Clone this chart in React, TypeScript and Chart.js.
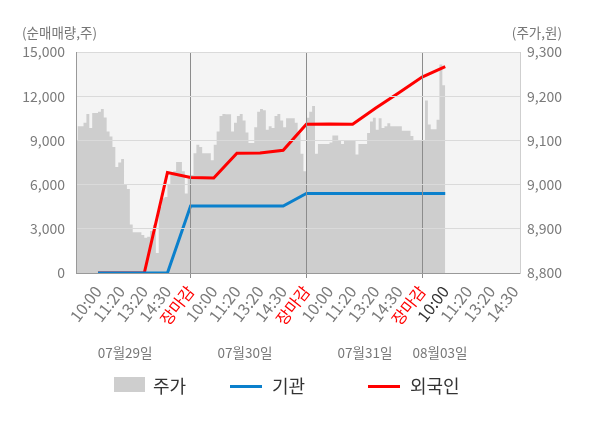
import React, { useEffect, useRef } from "react";
import { Chart, registerables } from "chart.js";

Chart.register(...registerables);

const tickLabels = [
  "10:00", "11:20", "13:20", "14:30", "장마감",
  "10:00", "11:20", "13:20", "14:30", "장마감",
  "10:00", "11:20", "13:20", "14:30", "장마감",
  "10:00", "11:20", "13:20", "14:30",
];
const dateLabels = ["07월29일", "07월30일", "07월31일", "08월03일"];
const dateAnchors = [1.17, 6.35, 11.53, 14.77];

// 순매매량 (누적), 10:00 첫날 ~ 10:00 08월03일
const instValues = [0, 0, 0, 0, 4550, 4550, 4550, 4550, 4550, 5400, 5400, 5400, 5400, 5400, 5400, 5400];
const foreignValues = [0, 0, 0, 6820, 6480, 6450, 8130, 8150, 8330, 10100, 10120, 10100, 11200, 12240, 13300, 14000];

// 주가 (일자별 샘플)
const priceDay1 = [
  9100, 9132, 9132, 9140, 9160, 9128, 9162, 9162, 9165, 9171,
  9152, 9120, 9109, 9085, 9040, 9050, 9058, 9000, 8990, 8910,
  8892, 8892, 8892, 8886, 8880, 8882, 8895, 8909, 8845, 8950,
  8969, 8972, 9000, 9022, 9030, 9051, 9051, 9030, 8980, 9020,
];
const priceDay2 = [
  9022, 9071, 9090, 9085, 9071, 9071, 9071, 9055, 9090, 9120,
  9155, 9160, 9159, 9159, 9120, 9140, 9155, 9160, 9145, 9118,
  9094, 9094, 9130, 9165, 9171, 9168, 9124, 9132, 9128, 9155,
  9160, 9145, 9130, 9150, 9150, 9150, 9140, 9115, 9070, 9030,
];
const priceDay3 = [
  9151, 9165, 9178, 9070, 9092, 9092, 9092, 9092, 9095, 9111,
  9111, 9100, 9092, 9099, 9099, 9099, 9099, 9068, 9092, 9092,
  9092, 9117, 9143, 9151, 9124, 9150, 9128, 9132, 9139, 9132,
  9132, 9132, 9132, 9122, 9122, 9122, 9110, 9099, 9099, 9099,
];
const priceDay4 = [9099, 9190, 9136, 9125, 9125, 9147, 9272, 9225];

const FONT = '"Noto Sans CJK KR", "Noto Sans", sans-serif';
const DAY_UNITS = 5;
const SAMPLE_STEP = 0.125;

function buildPricePoints() {
  const days = [priceDay1, priceDay2, priceDay3, priceDay4];
  const pts: { x: number; y: number }[] = [];
  days.forEach((arr, d) => {
    const start = d * DAY_UNITS - 1;
    arr.forEach((v, i) => pts.push({ x: start + i * SAMPLE_STEP, y: v }));
  });
  const last = priceDay4[priceDay4.length - 1];
  pts.push({ x: 3 * DAY_UNITS - 1 + priceDay4.length * SAMPLE_STEP, y: last });
  return pts;
}

const decorPlugin = {
  id: "decor",
  beforeDraw(chart: any) {
    const { ctx, chartArea } = chart;
    ctx.save();
    ctx.fillStyle = "#f4f4f4";
    ctx.fillRect(chartArea.left, chartArea.top, chartArea.right - chartArea.left, chartArea.bottom - chartArea.top);
    ctx.restore();
  },
  afterDraw(chart: any) {
    const { ctx, scales } = chart;
    ctx.save();
    ctx.fillStyle = "#777";
    ctx.textBaseline = "middle";
    ctx.font = `13.5px ${FONT}`;
    ctx.textAlign = "left";
    ctx.fillText("(순매매량,주)", 22, 33);
    ctx.textAlign = "right";
    ctx.fillText("(주가,원)", 562, 33);
    ctx.textAlign = "center";
    dateLabels.forEach((d, i) => {
      ctx.fillText(d, scales.x.getPixelForValue(dateAnchors[i]), 353);
    });
    ctx.restore();
  },
};

const App = () => {
  const chartRef = useRef<HTMLCanvasElement | null>(null);
  const chartInstance = useRef<Chart | null>(null);

  useEffect(() => {
    if (chartInstance.current) chartInstance.current.destroy();
    const ctx = chartRef.current?.getContext("2d");
    if (!ctx) return;

    chartInstance.current = new Chart(ctx, {
      type: "line",
      data: {
        datasets: [
          {
            label: "기관",
            data: instValues.map((v, i) => ({ x: i, y: v })),
            borderColor: "#0b80cc",
            borderWidth: 3,
            pointRadius: 0,
            yAxisID: "y",
            order: 1,
          },
          {
            label: "외국인",
            data: foreignValues.map((v, i) => ({ x: i, y: v })),
            borderColor: "#ff0000",
            borderWidth: 3,
            pointRadius: 0,
            yAxisID: "y",
            order: 2,
          },
          {
            label: "주가",
            data: buildPricePoints(),
            borderWidth: 0,
            borderColor: "rgba(0,0,0,0)",
            backgroundColor: "#cecece",
            fill: "start",
            stepped: true,
            pointRadius: 0,
            yAxisID: "y1",
            order: 3,
          },
        ],
      },
      options: {
        animation: false,
        responsive: false,
        layout: { padding: { top: 52, left: 0, right: 0, bottom: 0 } },
        plugins: { legend: { display: false }, tooltip: { enabled: false } },
        scales: {
          x: {
            type: "linear",
            min: -0.95,
            max: 18.23,
            afterBuildTicks: (scale: any) => {
              scale.ticks = tickLabels.map((_, i) => ({ value: i }));
            },
            afterFit: (scale: any) => {
              scale.height = 155;
            },
            grid: {
              z: 1,
              color: (c: any) => ([4, 9, 14].includes(c.tick?.value) ? "#8c8c8c" : "rgba(0,0,0,0)"),
              tickLength: 5,
            },
            border: { color: "#999", width: 1, z: 2 },
            ticks: {
              autoSkip: false,
              minRotation: 52,
              maxRotation: 52,
              padding: 4,
              font: { family: FONT, size: 16 },
              color: (c: any) =>
                tickLabels[c.index] === "장마감" ? "#ff0000" : c.index === 15 ? "#333" : "#7a7a7a",
              callback: (_v: any, i: number) => tickLabels[i],
            },
          },
          y: {
            position: "left",
            min: 0,
            max: 15000,
            afterFit: (scale: any) => {
              scale.width = 76;
            },
            grid: { z: 1, color: "#dadada", drawTicks: false },
            border: { color: "#999", z: 2 },
            ticks: {
              stepSize: 3000,
              padding: 11,
              font: { family: FONT, size: 14 },
              color: "#7a7a7a",
              callback: (v: any) => Number(v).toLocaleString("en-US"),
            },
          },
          y1: {
            position: "right",
            min: 8800,
            max: 9300,
            afterFit: (scale: any) => {
              scale.width = 80;
            },
            grid: { display: false, drawTicks: false },
            border: { color: "#cfcfcf", z: 2 },
            ticks: {
              stepSize: 100,
              padding: 7,
              font: { family: FONT, size: 14 },
              color: "#7a7a7a",
              callback: (v: any) => Number(v).toLocaleString("en-US"),
            },
          },
        },
      },
      plugins: [decorPlugin],
    } as any);

    return () => {
      if (chartInstance.current) chartInstance.current.destroy();
      chartInstance.current = null;
    };
  }, []);

  const legendText: React.CSSProperties = {
    position: "absolute",
    top: 372,
    fontFamily: FONT,
    fontSize: 18,
    color: "#333",
    lineHeight: "26px",
  };

  return (
    <div style={{ position: "absolute", left: 0, top: 0, width: 600, height: 428, background: "#fff" }}>
      <canvas ref={chartRef} width={600} height={428}></canvas>
      <div style={{ position: "absolute", left: 114, top: 377, width: 31, height: 15, background: "#cecece" }} />
      <span style={{ ...legendText, left: 153 }}>주가</span>
      <div style={{ position: "absolute", left: 230, top: 385, width: 32, height: 3, background: "#0b80cc" }} />
      <span style={{ ...legendText, left: 272 }}>기관</span>
      <div style={{ position: "absolute", left: 368, top: 385, width: 32, height: 3, background: "#ff0000" }} />
      <span style={{ ...legendText, left: 410 }}>외국인</span>
    </div>
  );
};

export default App;
